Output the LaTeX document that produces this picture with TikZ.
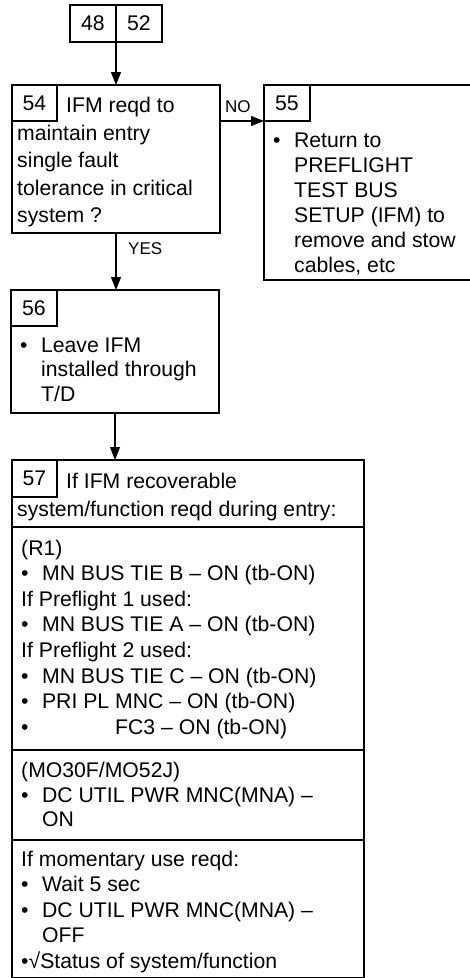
\documentclass[tikz,border=0pt]{standalone}
\usepackage{fontspec}
\setmainfont{Liberation Sans}
\usetikzlibrary{arrows.meta, positioning}

\newcommand{\bul}{•\hspace{13.5pt}}
\tikzset{
  box/.style={draw, line width=2.4pt, inner sep=0pt, outer sep=0pt, anchor=north west},
  tag/.style={draw, line width=1.4pt, inner sep=0pt, outer sep=0pt, anchor=north west,
    minimum width=45pt, minimum height=36pt, font=\fontsize{21.2}{25}\selectfont},
  txt/.style={anchor=base west, inner sep=0pt, font=\fontsize{21.2}{25}\selectfont},
  lbl/.style={anchor=base west, inner sep=0pt, font=\fontsize{17}{20}\selectfont},
  flow/.style={-{Triangle[length=13pt, width=10pt]}, line width=1.4pt},
}

\begin{document}
\begin{tikzpicture}[x=1pt, y=-1pt]
    \useasboundingbox (0,0) rectangle (470,978);
    \clip (0,0) rectangle (470,978);

    \node[tag, minimum width=46pt, minimum height=37pt] (t48) at (70,5) {48};
    \node[tag, minimum width=46pt, minimum height=37pt, anchor=west, right=0pt of t48] (t52) {52};

    \node[box, minimum width=208pt, minimum height=148pt] (b54) at (12,85) {};
    \node[tag] (t54) at (12,85) {54};
    \node[txt] (l54-0) at (66,112) {IFM reqd to};
    \foreach \t [count=\i] in {maintain entry, single fault, tolerance in critical, system ?}
        \node[txt] (l54-\i) at (17,{140+27.5*(\i-1)}) {\t};

    \node[box, minimum width=226pt, minimum height=195pt] (b55) at (264,85) {};
    \node[tag, minimum width=46pt] (t55) at (264,85) {55};
    \node[txt] (l55-0) at (273,147) {\bul Return to};
    \foreach \t [count=\i] in {PREFLIGHT, TEST BUS, SETUP (IFM) to, remove and stow, {cables, etc}}
        \node[txt] (l55-\i) at (294,{147+25*\i}) {\t};

    \node[box, minimum width=208pt, minimum height=123pt] (b56) at (11,290) {};
    \node[tag, minimum width=46pt] (t56) at (11,290) {56};
    \node[txt] (l56-0) at (20,352) {\bul Leave IFM};
    \node[txt] (l56-1) at (41,376.5) {installed through};
    \node[txt] (l56-2) at (41,401) {T/D};

    \node[box, minimum width=352pt, minimum height=518pt] (b57) at (12,460) {};
    \node[tag, minimum height=37pt] (t57) at (12,460) {57};
    \node[txt] (l57-0) at (66,488) {If IFM recoverable};
    \node[txt] (l57-1) at (17,516) {system/function reqd during entry:};
    \foreach \y in {527,750,840}
        \draw[line width=2.4pt] (12,\y) -- (364,\y);
    \foreach \t [count=\i] in {(R1), \bul MN BUS TIE B – ON (tb-ON), If Preflight 1 used:,
        \bul MN BUS TIE A – ON (tb-ON), If Preflight 2 used:, \bul MN BUS TIE C – ON (tb-ON),
        \bul PRI PL MNC – ON (tb-ON), •\hspace{86.6pt}FC3 – ON (tb-ON)}
        \node[txt] (r1-\i) at (21,{555+25.6*(\i-1)}) {\t};
    \node[txt] (mo-1) at (21,777) {(MO30F/MO52J)};
    \node[txt] (mo-2) at (21,802) {\bul DC UTIL PWR MNC(MNA) –};
    \node[txt] (mo-3) at (42,826.5) {ON};
    \foreach \t [count=\i] in {If momentary use reqd:, \bul Wait 5 sec, \bul DC UTIL PWR MNC(MNA) –,
        \hspace{21pt}OFF, •√Status of system/function}
        \node[txt] (mom-\i) at (21,{866+25.5*(\i-1)}) {\t};

    \draw[flow] (t48.south east) -- (t48.south east |- b54.north);
    \draw[flow] (t54.south -| b54.east) -- (t55.south west);
    \node[lbl] (no) at (225,112) {NO};
    \draw[flow] (b54.south -| t48.south east) -- (b56.north -| t48.south east);
    \node[lbl] (yes) at (128,254) {YES};
    \draw[flow] (b56.south) -- (b56.south |- b57.north);
\end{tikzpicture}
\end{document}
